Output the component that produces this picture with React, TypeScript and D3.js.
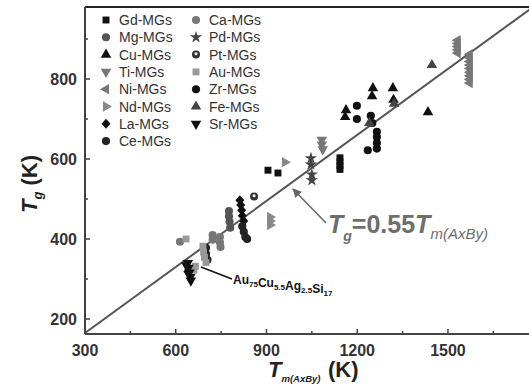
import React, { useEffect, useRef } from 'react';
import * as d3 from 'd3';

type Pt = [number, number]; // [Tm(AxBy), Tg] in K

// values
const gdMGs: Pt[] = [[905, 572], [938, 565], [1143, 603], [1143, 593], [1143, 583], [1143, 574]];
const mgMGs: Pt[] = [[776, 470], [776, 457], [778, 443], [780, 428]];
const cuMGs: Pt[] = [[1163, 722], [1160, 705], [1252, 777], [1249, 757], [1318, 777], [1320, 748], [1434, 717]];
const tiMGs: Pt[] = [[1083, 648], [1083, 636], [1086, 624]];
const niMGs: Pt[] = [
  [1532, 897], [1532, 889], [1532, 881], [1532, 873], [1532, 865],
  [1572, 862], [1572, 853], [1572, 844], [1572, 835], [1572, 826], [1572, 817], [1572, 808], [1572, 799], [1572, 790],
];
const ndMGs: Pt[] = [[961, 592], [912, 455], [912, 445], [912, 435]];
const laMGs: Pt[] = [[812, 497], [815, 485], [818, 472], [820, 458], [825, 445], [640, 318]];
const ceMGs: Pt[] = [[700, 378], [700, 363], [705, 348], [820, 432], [825, 418], [830, 405], [836, 400]];
const caMGs: Pt[] = [[614, 393], [722, 410], [722, 398], [746, 405], [746, 392], [748, 380]];
const pdMGs: Pt[] = [[1047, 602], [1047, 586], [1050, 561], [1050, 547]];
const ptMGs: Pt[] = [[859, 506]];
const auMGs: Pt[] = [[634, 400], [690, 382], [692, 367], [695, 354], [700, 341], [665, 332], [660, 322]];
const zrMGs: Pt[] = [[1199, 733], [1199, 700], [1265, 668], [1265, 655], [1265, 640], [1265, 626], [1235, 622], [1250, 690], [1245, 708]];
const feMGs: Pt[] = [[1447, 835], [1322, 738], [1240, 690]];
const srMGs: Pt[] = [[640, 340], [642, 328], [645, 316], [648, 305], [650, 296], [635, 334]];

const tmTicks = [300, 600, 900, 1200, 1500];
const tmMinor = [450, 750, 1050, 1350, 1650];
const tgTicks = [200, 400, 600, 800];
const tgMinor = [300, 500, 700, 900];
const slope = 0.55;

type Shape = 'square' | 'circle' | 'up' | 'down' | 'left' | 'right' | 'diamond' | 'star' | 'pt';

const series: { name: string; data: Pt[]; shape: Shape; fill: string }[] = [
  { name: 'Gd-MGs', data: gdMGs, shape: 'square', fill: '#111' },
  { name: 'Mg-MGs', data: mgMGs, shape: 'circle', fill: '#555' },
  { name: 'Cu-MGs', data: cuMGs, shape: 'up', fill: '#111' },
  { name: 'Ti-MGs', data: tiMGs, shape: 'down', fill: '#777' },
  { name: 'Ni-MGs', data: niMGs, shape: 'left', fill: '#777' },
  { name: 'Nd-MGs', data: ndMGs, shape: 'right', fill: '#888' },
  { name: 'La-MGs', data: laMGs, shape: 'diamond', fill: '#111' },
  { name: 'Ce-MGs', data: ceMGs, shape: 'circle', fill: '#222' },
  { name: 'Ca-MGs', data: caMGs, shape: 'circle', fill: '#777' },
  { name: 'Pd-MGs', data: pdMGs, shape: 'star', fill: '#444' },
  { name: 'Pt-MGs', data: ptMGs, shape: 'pt', fill: '#333' },
  { name: 'Au-MGs', data: auMGs, shape: 'square', fill: '#999' },
  { name: 'Zr-MGs', data: zrMGs, shape: 'circle', fill: '#111' },
  { name: 'Fe-MGs', data: feMGs, shape: 'up', fill: '#444' },
  { name: 'Sr-MGs', data: srMGs, shape: 'down', fill: '#111' },
];

const W = 529;
const H = 385;
const FONT = '"Liberation Sans", Arial, sans-serif';

function drawMarker(g: d3.Selection<SVGGElement, unknown, null, undefined>, shape: Shape, fill: string, cx: number, cy: number) {
  if (shape === 'pt') {
    g.append('circle').attr('cx', cx).attr('cy', cy).attr('r', 4).attr('fill', fill);
    g.append('circle').attr('cx', cx).attr('cy', cy - 0.8).attr('r', 1.5).attr('fill', '#fff');
    return;
  }
  if (shape === 'diamond') {
    g.append('path')
      .attr('d', `M${cx},${cy - 5}L${cx + 4.5},${cy}L${cx},${cy + 5}L${cx - 4.5},${cy}Z`)
      .attr('fill', fill);
    return;
  }
  const types: Record<string, [d3.SymbolType, number, number]> = {
    square: [d3.symbolSquare, 0, 48],
    circle: [d3.symbolCircle, 0, 52],
    up: [d3.symbolTriangle, 0, 48],
    down: [d3.symbolTriangle, 180, 48],
    left: [d3.symbolTriangle, -90, 46],
    right: [d3.symbolTriangle, 90, 46],
    star: [d3.symbolStar, 0, 46],
  };
  const [type, rot, size] = types[shape];
  g.append('path')
    .attr('d', d3.symbol().type(type).size(size)()!)
    .attr('transform', `translate(${cx},${cy}) rotate(${rot})`)
    .attr('fill', fill);
}

export default function App() {
  const ref = useRef<SVGSVGElement | null>(null);

  useEffect(() => {
    if (!ref.current) return;
    const svg = d3.select(ref.current);
    svg.selectAll('*').remove();

    const x = d3.scaleLinear().domain([300, 1768]).range([85, 529]);
    const y = d3.scaleLinear().domain([162.5, 980]).range([334, 7]);
    const [x0, x1] = x.range();
    const [y0, y1] = y.range();

    const defs = svg.append('defs');
    defs.append('clipPath').attr('id', 'plot-clip')
      .append('rect').attr('x', x0).attr('y', y1).attr('width', x1 - x0).attr('height', y0 - y1);
    defs.append('marker')
      .attr('id', 'arrow')
      .attr('viewBox', '0 0 10 10')
      .attr('refX', 9).attr('refY', 5)
      .attr('markerWidth', 6).attr('markerHeight', 6)
      .attr('orient', 'auto')
      .append('path').attr('d', 'M0,0 L10,5 L0,10 Z').attr('fill', '#666');

    const g = svg.append('g');

    // Tg = 0.55 Tm line
    g.append('line')
      .attr('clip-path', 'url(#plot-clip)')
      .attr('x1', x(300)).attr('y1', y(300 * slope))
      .attr('x2', x(1800)).attr('y2', y(1800 * slope))
      .attr('stroke', '#555').attr('stroke-width', 2);

    // points
    const pts = g.append('g').attr('clip-path', 'url(#plot-clip)');
    series.forEach(s => {
      s.data.forEach(([tm, tg]) => drawMarker(pts, s.shape, s.fill, x(tm), y(tg)));
    });

    // frame + axes
    g.append('line').attr('x1', x0).attr('x2', x1).attr('y1', y1).attr('y2', y1).attr('stroke', '#222').attr('stroke-width', 2);
    g.append('line').attr('x1', x0).attr('x2', x1).attr('y1', y0).attr('y2', y0).attr('stroke', '#444').attr('stroke-width', 2);
    g.append('line').attr('x1', x0).attr('x2', x0).attr('y1', y1).attr('y2', y0).attr('stroke', '#444').attr('stroke-width', 2);

    tmTicks.forEach(t => {
      g.append('line').attr('x1', x(t)).attr('x2', x(t)).attr('y1', y0).attr('y2', y0 - 5).attr('stroke', '#444').attr('stroke-width', 1.5);
      g.append('text').attr('x', x(t)).attr('y', 356).attr('text-anchor', 'middle')
        .attr('font-family', FONT).attr('font-weight', 'bold').attr('font-size', 16).attr('fill', '#333').text(t);
    });
    tmMinor.forEach(t => {
      g.append('line').attr('x1', x(t)).attr('x2', x(t)).attr('y1', y0).attr('y2', y0 - 3).attr('stroke', '#444').attr('stroke-width', 1.5);
    });
    tgTicks.forEach(t => {
      g.append('line').attr('x1', x0).attr('x2', x0 + 5).attr('y1', y(t)).attr('y2', y(t)).attr('stroke', '#444').attr('stroke-width', 1.5);
      g.append('text').attr('x', 77).attr('y', y(t) + 5.5).attr('text-anchor', 'end')
        .attr('font-family', FONT).attr('font-weight', 'bold').attr('font-size', 16).attr('fill', '#333').text(t);
    });
    tgMinor.forEach(t => {
      g.append('line').attr('x1', x0).attr('x2', x0 + 3).attr('y1', y(t)).attr('y2', y(t)).attr('stroke', '#444').attr('stroke-width', 1.5);
    });

    // axis titles
    const yl = g.append('text')
      .attr('transform', 'translate(37,184) rotate(-90)')
      .attr('text-anchor', 'middle')
      .attr('font-family', FONT).attr('font-weight', 'bold').attr('fill', '#222');
    yl.append('tspan').attr('font-size', 22).attr('font-style', 'italic').text('T');
    yl.append('tspan').attr('font-size', 13).attr('font-style', 'italic').attr('dy', 5).text('g');
    yl.append('tspan').attr('font-size', 22).attr('dy', -5).text(' (K)');

    const xl = g.append('text')
      .attr('x', 268).attr('y', 377)
      .attr('font-family', FONT).attr('font-weight', 'bold').attr('fill', '#222');
    xl.append('tspan').attr('font-size', 22).attr('font-style', 'italic').text('T');
    xl.append('tspan').attr('font-size', 9.5).attr('font-style', 'italic').attr('dy', 5).text('m(AxBy)');
    xl.append('tspan').attr('font-size', 22).attr('x', 328).attr('dy', -5).text('(K)');

    // legend
    const legendCols = [series.slice(0, 8), series.slice(8)];
    const colX = [106, 196];
    legendCols.forEach((col, ci) => {
      col.forEach((s, ri) => {
        const ly = 20 + ri * 17.3;
        drawMarker(g, s.shape, s.fill, colX[ci], ly);
        g.append('text').attr('x', colX[ci] + 13).attr('y', ly + 5)
          .attr('font-family', FONT).attr('font-size', 14).attr('fill', '#333').text(s.name);
      });
    });

    // equation annotation
    g.append('line')
      .attr('x1', 326).attr('y1', 223).attr('x2', 293).attr('y2', 189)
      .attr('stroke', '#666').attr('stroke-width', 1.5)
      .attr('marker-end', 'url(#arrow)');
    const eq = g.append('text')
      .attr('x', 328).attr('y', 233)
      .attr('font-family', FONT).attr('font-weight', 'bold').attr('fill', '#6e6e6e');
    eq.append('tspan').attr('font-size', 25).attr('font-style', 'italic').text('T');
    eq.append('tspan').attr('font-size', 14).attr('font-style', 'italic').attr('dy', 8).text('g');
    eq.append('tspan').attr('font-size', 25).attr('dy', -8).text('=0.55');
    eq.append('tspan').attr('font-size', 25).attr('font-style', 'italic').text('T');
    eq.append('tspan').attr('font-size', 15).attr('font-style', 'italic').attr('font-weight', 'normal').attr('dy', 6).text('m(AxBy)');

    // Au alloy annotation
    g.append('line')
      .attr('x1', 232).attr('y1', 279).attr('x2', 201).attr('y2', 267)
      .attr('stroke', '#111').attr('stroke-width', 1.5);
    const au = g.append('text')
      .attr('x', 233).attr('y', 284)
      .attr('font-family', FONT).attr('font-weight', 'bold').attr('fill', '#111');
    const parts: [string, string][] = [['Au', '75'], ['Cu', '5.5'], ['Ag', '2.5'], ['Si', '17']];
    parts.forEach(([el, sub]) => {
      au.append('tspan').attr('font-size', 12).text(el);
      au.append('tspan').attr('font-size', 8).attr('dy', 3).text(sub);
      au.append('tspan').attr('font-size', 12).attr('dy', -3).text('');
    });
  }, []);

  return (
    <svg
      ref={ref}
      width={W}
      height={H}
      style={{ position: 'absolute', left: 0, top: 0, background: '#fff' }}
    />
  );
}
